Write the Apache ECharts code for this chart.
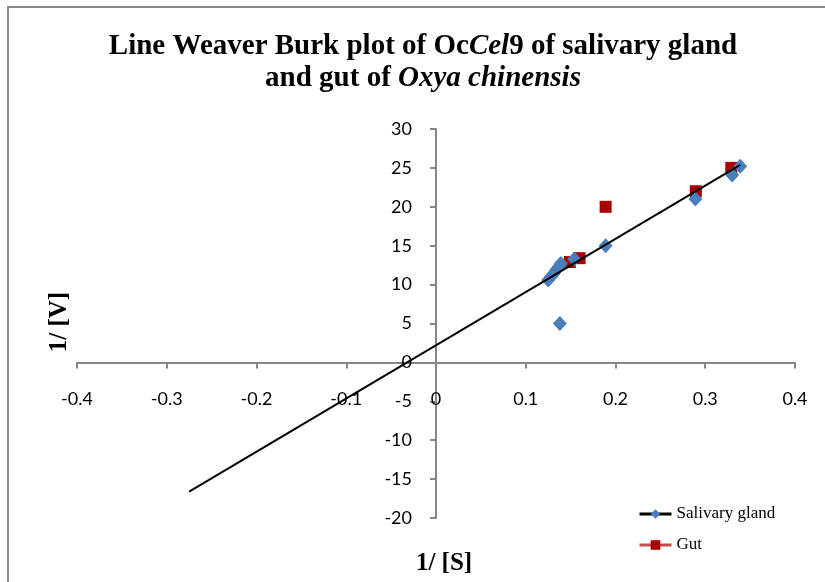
<!DOCTYPE html>
<html>
<head>
<meta charset="utf-8">
<script src="https://cdn.jsdelivr.net/npm/echarts@6/dist/echarts.min.js"></script>
<style>
html,body{margin:0;padding:0;background:#fff;}
#chart{width:825px;height:582px;}
</style>
</head>
<body>
<div id="chart"></div>
<script>
// ---- data ----
var salivaryX = [0.339, 0.330, 0.289, 0.189, 0.154, 0.125, 0.128, 0.131, 0.134, 0.137, 0.139, 0.138];
var salivaryY = [25.2, 24.1, 21.0, 15.0, 13.3, 10.6, 11.0, 11.4, 11.9, 12.3, 12.7, 5.0];
var gutX = [0.329, 0.2895, 0.189, 0.160, 0.149];
var gutY = [25.0, 22.0, 20.0, 13.4, 12.9];
var trendX = [-0.275, 0.339];
var trendY = [-16.6, 25.4];
var seriesNames = ['Salivary gland', 'Gut'];
var xTicks = {min: -0.4, max: 0.4, interval: 0.1};
var yTicks = {min: -20, max: 30, interval: 5};
var xName = '1/ [S]';
var yName = '1/ [V]';

function zip(xs, ys){ return xs.map(function(x, i){ return [x, ys[i]]; }); }

var W = 825, H = 582;
var G = {left: 77, right: 30, top: 129, bottom: 64};
var gridW = W - G.left - G.right, gridH = H - G.top - G.bottom;
// axes cross at zero: shift each axis (line, ticks, labels) inward to the other axis' zero
var xAxisOffset = -gridH * (0 - yTicks.min) / (yTicks.max - yTicks.min);
var yAxisOffset = -gridW * (0 - xTicks.min) / (xTicks.max - xTicks.min);

var chart = echarts.init(document.getElementById('chart'), null, {renderer: 'canvas'});
var tickFont = 'Lato';
var serif = '"Liberation Serif", "Times New Roman", serif';

var option = {
  backgroundColor: '#fff',
  animation: false,
  graphic: [{
    type: 'rect',
    shape: {x: 8, y: 7, width: 1200, height: 1200},
    style: {fill: 'none', stroke: '#888', lineWidth: 2},
    silent: true
  }, {
    type: 'text',
    x: 423,
    y: 31,
    silent: true,
    style: {
      text: '{b|Line Weaver Burk plot of Oc}{bi|Cel}{b|9 of salivary gland}\n{b|and gut of }{bi|Oxya chinensis}',
      align: 'center',
      verticalAlign: 'top',
      rich: {
        b: {fontFamily: serif, fontWeight: 'bold', fontSize: 29, lineHeight: 32, fill: '#000'},
        bi: {fontFamily: serif, fontWeight: 'bold', fontStyle: 'italic', fontSize: 29, lineHeight: 32, fill: '#000'}
      }
    }
  }, {
    type: 'text',
    x: 444,
    y: 564,
    silent: true,
    style: {text: xName, align: 'center', verticalAlign: 'middle',
            fontFamily: serif, fontWeight: 'bold', fontSize: 25, fill: '#000'}
  }, {
    type: 'text',
    x: 60,
    y: 322,
    rotation: Math.PI / 2,
    silent: true,
    style: {text: yName, align: 'center', verticalAlign: 'middle',
            fontFamily: serif, fontWeight: 'bold', fontSize: 25, fill: '#000'}
  }],
  legend: {
    orient: 'vertical',
    left: 633,
    top: 499,
    itemWidth: 32,
    itemHeight: 12,
    itemGap: 11,
    textStyle: {fontFamily: serif, fontSize: 17, color: '#000', lineHeight: 20},
    data: [
      {name: seriesNames[0], lineStyle: {color: '#000', width: 3, opacity: 1}},
      {name: seriesNames[1], lineStyle: {color: '#C0504D', width: 3, opacity: 1}}
    ]
  },
  grid: {left: G.left, right: G.right, top: G.top, bottom: G.bottom, containLabel: false},
  xAxis: {
    type: 'value',
    position: 'bottom',
    offset: xAxisOffset,
    min: xTicks.min, max: xTicks.max, interval: xTicks.interval,
    splitLine: {show: false},
    axisLine: {onZero: false, lineStyle: {color: '#868686', width: 2}},
    axisTick: {show: true, length: 6, lineStyle: {color: '#868686', width: 2}},
    axisLabel: {margin: 28, fontFamily: tickFont, fontSize: 18, color: '#000'}
  },
  yAxis: {
    type: 'value',
    position: 'left',
    offset: yAxisOffset,
    min: yTicks.min, max: yTicks.max, interval: yTicks.interval,
    splitLine: {show: false},
    axisLine: {onZero: false, lineStyle: {color: '#868686', width: 2}},
    axisTick: {show: true, length: 6, lineStyle: {color: '#868686', width: 2}},
    axisLabel: {margin: 24, fontFamily: tickFont, fontSize: 18, color: '#000'}
  },
  series: [
    {
      name: seriesNames[1],
      type: 'line',
      data: zip(gutX, gutY),
      symbol: 'rect',
      symbolSize: 12,
      showSymbol: true,
      showAllSymbol: true,
      lineStyle: {opacity: 0, color: '#C0504D'},
      itemStyle: {color: '#A80000'},
      z: 2
    },
    {
      name: seriesNames[0],
      type: 'line',
      data: zip(salivaryX, salivaryY),
      symbol: 'diamond',
      symbolSize: [14, 15],
      showSymbol: true,
      showAllSymbol: true,
      lineStyle: {opacity: 0, color: '#000'},
      itemStyle: {color: '#4A7EBB'},
      z: 3
    },
    {
      name: 'trend',
      type: 'line',
      data: zip(trendX, trendY),
      symbol: 'none',
      lineStyle: {color: '#000', width: 2},
      z: 4
    }
  ]
};
chart.setOption(option);
</script>
</body>
</html>
